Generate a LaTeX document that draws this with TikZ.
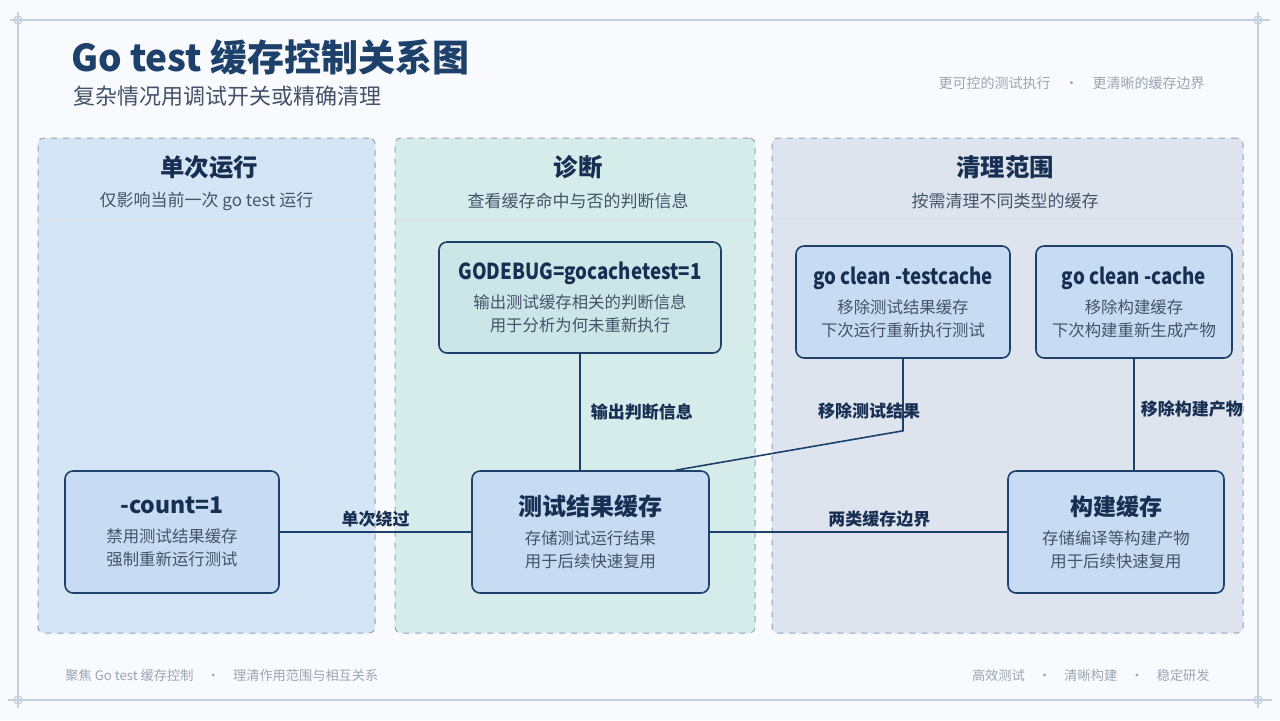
\documentclass[tikz,border=0pt]{standalone}
\usepackage{fontspec}
\setmainfont{Noto Sans CJK SC}
\usepackage{tikz}
\usetikzlibrary{positioning}
\definecolor{navy}{HTML}{1E416B}
\definecolor{deep}{HTML}{172F52}
\definecolor{ink}{HTML}{44536A}
\definecolor{mute}{HTML}{9AA6B3}
\definecolor{slate}{HTML}{8FA5BC}
\definecolor{framec}{HTML}{C2CFDD}
\definecolor{pageb}{HTML}{F8FAFD}
\definecolor{bluep}{HTML}{D4E6F5}
\definecolor{tealp}{HTML}{D6ECEB}
\definecolor{grayp}{HTML}{DDE4EE}
\definecolor{boxb}{HTML}{C7DCF2}
\definecolor{boxt}{HTML}{CCE5E7}
\newcommand\boxhead[1]{{\fontsize{11.5}{14}\selectfont\bfseries\color{deep}#1}}
\newcommand\cmdhead[1]{{\fontsize{11}{14}\selectfont\bfseries\color{deep}\scalebox{0.85}[1]{#1}}}
\tikzset{
  framel/.style={draw=framec,line width=0.6pt},
  panel/.style={draw=slate,dashed,line width=0.5pt,rounded corners=3pt,inner sep=0pt},
  hline/.style={draw=white!65!slate,line width=0.4pt},
  head/.style={font=\fontsize{12.2}{14}\selectfont\bfseries,text=deep},
  headsub/.style={font=\fontsize{8.5}{10}\selectfont,text=ink},
  box/.style={draw=navy,fill=boxb,rounded corners=4pt,line width=0.8pt,align=center,inner sep=0pt,
    font=\fontsize{8.2}{11.5}\selectfont,text=ink},
  boxk/.style={box,fill=boxt},
  link/.style={draw=navy,line width=0.8pt},
  lbl/.style={font=\fontsize{8.5}{10}\selectfont\bfseries,text=deep,inner sep=2pt},
  foot/.style={font=\fontsize{6.6}{8}\selectfont,text=mute,inner sep=0pt},
}
\begin{document}
\begin{tikzpicture}[x=0.5pt,y=-0.5pt]
\useasboundingbox (0,0) rectangle (1280,720);
\fill[pageb] (0,0) rectangle (1280,720);
% frame
\draw[framel] (10,20) -- (1270,20);
\draw[framel] (8,700) -- (1272,700);
\draw[framel] (18,12) -- (18,708);
\draw[framel] (1258,12) -- (1258,708);
\foreach \x/\y in {18/20,1258/20,18/700,1258/700} \draw[framel] (\x,\y) circle (4);
% heading
\node[anchor=west,font=\fontsize{18.5}{22}\selectfont\bfseries,text=navy] (title) at (64,57) {Go test 缓存控制关系图};
\node[anchor=west,font=\fontsize{11}{13}\selectfont,text=ink] (subtitle) at (66,96) {复杂情况用调试开关或精确清理};
\node[anchor=east,font=\fontsize{7}{9}\selectfont,text=mute,inner sep=0pt] (tagline) at (1205,83) {更可控的测试执行\quad·\quad 更清晰的缓存边界};
% panels
\node[panel,fill=bluep,minimum width=168.5pt,minimum height=247.5pt] (pone) at (206.5,385.5) {};
\node[panel,fill=tealp,minimum width=180pt,minimum height=247.5pt] (ptwo) at (575,385.5) {};
\node[panel,fill=grayp,minimum width=235.5pt,minimum height=247.5pt] (pthree) at (1007.5,385.5) {};
\foreach \p in {pone,ptwo,pthree}
  \draw[hline] ([yshift=-41pt]\p.north west) -- ([yshift=-41pt]\p.north east);
\node[head] (ponet) at (209,167) {单次运行};
\node[headsub] (pones) at (206.5,201) {仅影响当前一次 go test 运行};
\node[head] (ptwot) at (578,167) {诊断};
\node[headsub] (ptwos) at (578,201) {查看缓存命中与否的判断信息};
\node[head] (pthreet) at (1005,167) {清理范围};
\node[headsub] (pthrees) at (1005,201) {按需清理不同类型的缓存};
% boxes
\node[box,minimum width=107pt,minimum height=61pt] (count) at (172,532)
  {\boxhead{-count=1}\\[3pt]禁用测试结果缓存\\强制重新运行测试};
\node[box,minimum width=118.5pt,minimum height=61pt] (tcache) at (590.5,532)
  {\boxhead{\fontsize{12}{14}\selectfont 测试结果缓存}\\[3pt]存储测试运行结果\\用于后续快速复用};
\node[box,minimum width=108pt,minimum height=61pt] (build) at (1116,532)
  {\boxhead{构建缓存}\\[3pt]存储编译等构建产物\\用于后续快速复用};
\node[boxk,minimum width=141pt,minimum height=55.5pt] (godebug) at (580,297.5)
  {\cmdhead{GODEBUG=gocachetest=1}\\[3pt]输出测试缓存相关的判断信息\\用于分析为何未重新执行};
\node[box,minimum width=107pt,minimum height=56pt] (gctest) at (903,302)
  {\cmdhead{go clean -testcache}\\[3pt]移除测试结果缓存\\下次运行重新执行测试};
\node[box,minimum width=98pt,minimum height=56pt] (gcache) at (1134,302)
  {\cmdhead{go clean -cache}\\[3pt]移除构建缓存\\下次构建重新生成产物};
% links
\draw[link] (count.east) -- node[lbl,above] {单次绕过} (tcache.west);
\draw[link] (tcache.east) -- node[lbl,above,pos=0.57] {两类缓存边界} (build.west);
\draw[link] (godebug.south) -- node[lbl,right=3pt] {输出判断信息} (godebug.south |- tcache.north);
\draw[link] (gctest.south) -- node[lbl,pos=0.72,xshift=-17pt] {移除测试结果} ++(0,72) coordinate (gcbend) -- (tcache.36);
\draw[link] (gcache.south) -- node[lbl,right=1pt,pos=0.45] {移除构建产物} (gcache.south |- build.north);
% footer
\node[anchor=west,foot] (footl) at (65,675) {聚焦 Go test 缓存控制\quad·\quad 理清作用范围与相互关系};
\node[anchor=east,foot] (footr) at (1210,675) {高效测试\quad·\quad 清晰构建\quad·\quad 稳定研发};
\end{tikzpicture}
\end{document}
